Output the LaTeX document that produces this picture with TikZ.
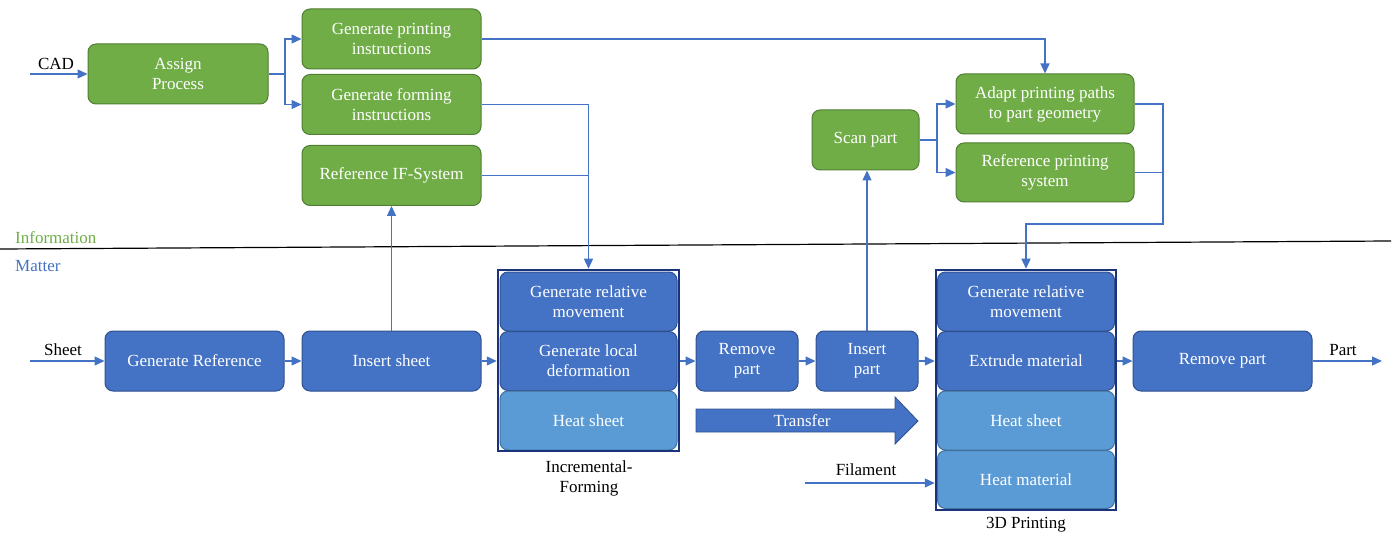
\documentclass[tikz,border=0pt]{standalone}
\usepackage{fontspec}
\setmainfont{Liberation Serif}
\usetikzlibrary{arrows.meta}
\definecolor{gfill}{HTML}{70AD47}
\definecolor{gline}{HTML}{507E32}
\definecolor{bfill}{HTML}{4472C4}
\definecolor{bline}{HTML}{2F528F}
\definecolor{lfill}{HTML}{5B9BD5}
\definecolor{lline}{HTML}{41719C}
\definecolor{navy}{HTML}{1A347C}
\definecolor{connc}{HTML}{4472C4}
\definecolor{infogreen}{HTML}{70AD47}
\begin{document}
\begin{tikzpicture}[x=1pt,y=-1pt, font=\fontsize{17}{20}\selectfont,
 pbox/.style={rectangle, rounded corners=8pt, line width=1pt, text=white, align=center, inner sep=0pt, minimum width=179pt, minimum height=60pt},
 gbox/.style={pbox, fill=gfill, draw=gline},
 bbox/.style={pbox, fill=bfill, draw=bline},
 lbox/.style={pbox, fill=lfill, draw=lline},
 inbox/.style={minimum width=177pt, minimum height=59pt},
 procframe/.style={rectangle, draw=navy, line width=2.5pt, inner sep=0pt},
 conn/.style={draw=connc, line width=1.3pt},
 arr/.style={conn, -{Triangle[length=10pt,width=9pt]}},
 lbl/.style={text=black, inner sep=0pt}]
\useasboundingbox (0,0) rectangle (1399,537);

% information / matter divider
\coordinate (l1) at (0,249);
\coordinate (l2) at (1391,241);
\draw[line width=1.2pt] (l1) -- (l2);
\node[text=infogreen, anchor=west, inner sep=0pt] (info) at (15,238) {Information};
\node[text=connc, anchor=west, inner sep=0pt] (matter) at (15,266) {Matter};

% information nodes
\node[gbox, minimum width=180pt] (assign) at (178,74) {Assign\\Process};
\node[gbox] (gp) at (391.5,39) {Generate printing\\instructions};
\node[gbox] (gf) at (391.5,104.5) {Generate forming\\instructions};
\node[gbox] (refif) at (391.5,175.5) {Reference IF-System};
\node[gbox, minimum width=107pt] (scan) at (865.5,140) {Scan part};
\node[gbox, minimum width=178pt] (adapt) at (1045,104) {Adapt printing paths\\to part geometry};
\node[gbox, minimum width=178pt, minimum height=59pt] (refps) at (1045,172.5) {Reference printing\\system};

% matter nodes
\node[bbox] (genref) at (194.5,361) {Generate Reference};
\node[bbox] (inssheet) at (391.5,361) {Insert sheet};

\node[bbox, inbox] (ifmove) at (588.5,301.5) {Generate relative\\movement};
\node[bbox, inbox] (ifdef) at (588.5,361) {Generate local\\deformation};
\node[lbox, inbox] (ifheat) at (588.5,420.5) {Heat sheet};
\node[procframe, minimum width=181pt, minimum height=181pt] (if) at (588.5,360.5) {};

\node[bbox, minimum width=102pt] (rmp) at (747,361) {Remove\\part};
\node[bbox, minimum width=102pt] (insp) at (867,361) {Insert\\part};

\node[bbox, inbox] (pmove) at (1026,301.5) {Generate relative\\movement};
\node[bbox, inbox] (pext) at (1026,361) {Extrude material};
\node[lbox, inbox] (pheat) at (1026,420.5) {Heat sheet};
\node[lbox, inbox, minimum height=58pt] (pmat) at (1026,479.5) {Heat material};
\node[procframe, minimum width=180pt, minimum height=240pt] (pr) at (1026,390) {};

\node[bbox] (rmp2) at (1222.5,361) {Remove part};

% transfer arrow
\draw[fill=bfill, draw=bline, line width=0.8pt] (696,409) -- (895,409) -- (895,397) -- (918,421) -- (895,444) -- (895,432) -- (696,432) -- cycle;
\node[text=white, inner sep=0pt] (transfer) at (802,421) {Transfer};

% labels
\node[lbl] (cad) at (56,64) {CAD};
\node[lbl] (sheet) at (63,350) {Sheet};
\node[lbl] (part) at (1343,350) {Part};
\node[lbl] (fil) at (866,470) {Filament};
\node[lbl, align=center] (iflbl) at (589,478) {Incremental-\\Forming};
\node[lbl] (prlbl) at (1026,525) {3D Printing};

% information connectors
\coordinate (cadin) at (30,74);
\draw[arr] (cadin) -- (assign.west);
\coordinate (br1) at (285,74);
\draw[conn] (assign.east) -- (br1);
\draw[arr] (br1) |- (gp.west);
\draw[arr] (br1) |- (gf.west);
\draw[arr] (gp.east) -| (adapt.north);
\draw[arr] (gf.east) -| (if.north);
\draw[conn] (refif.east) -- (refif.east -| if.north);
\draw[arr] (inssheet.north) -- (refif.south);
\coordinate (br2) at (937,140);
\draw[conn] (scan.east) -- (br2);
\draw[arr] (br2) |- (adapt.west);
\draw[arr] (br2) |- (refps.west);
\coordinate (rt) at (1163,224);
\draw[arr] (adapt.east) -| (rt) -| (pr.north);
\draw[conn] (refps.east) -- (refps.east -| rt);
\draw[arr] (insp.north) -- (insp.north |- scan.south);

% matter connectors
\coordinate (sheetin) at (30,361);
\draw[arr] (sheetin) -- (genref.west);
\draw[arr] (genref.east) -- (inssheet.west);
\draw[arr] (inssheet.east) -- (inssheet.east -| if.west);
\draw[arr] (rmp.west -| if.east) -- (rmp.west);
\draw[arr] (rmp.east) -- (insp.west);
\draw[arr] (insp.east) -- (insp.east -| pr.west);
\draw[arr] (rmp2.west -| pr.east) -- (rmp2.west);
\coordinate (partout) at (1382,361);
\draw[arr] (rmp2.east) -- (partout);
\coordinate (filin) at (805,483);
\draw[arr] (filin) -- (filin -| pr.west);
\end{tikzpicture}
\end{document}
